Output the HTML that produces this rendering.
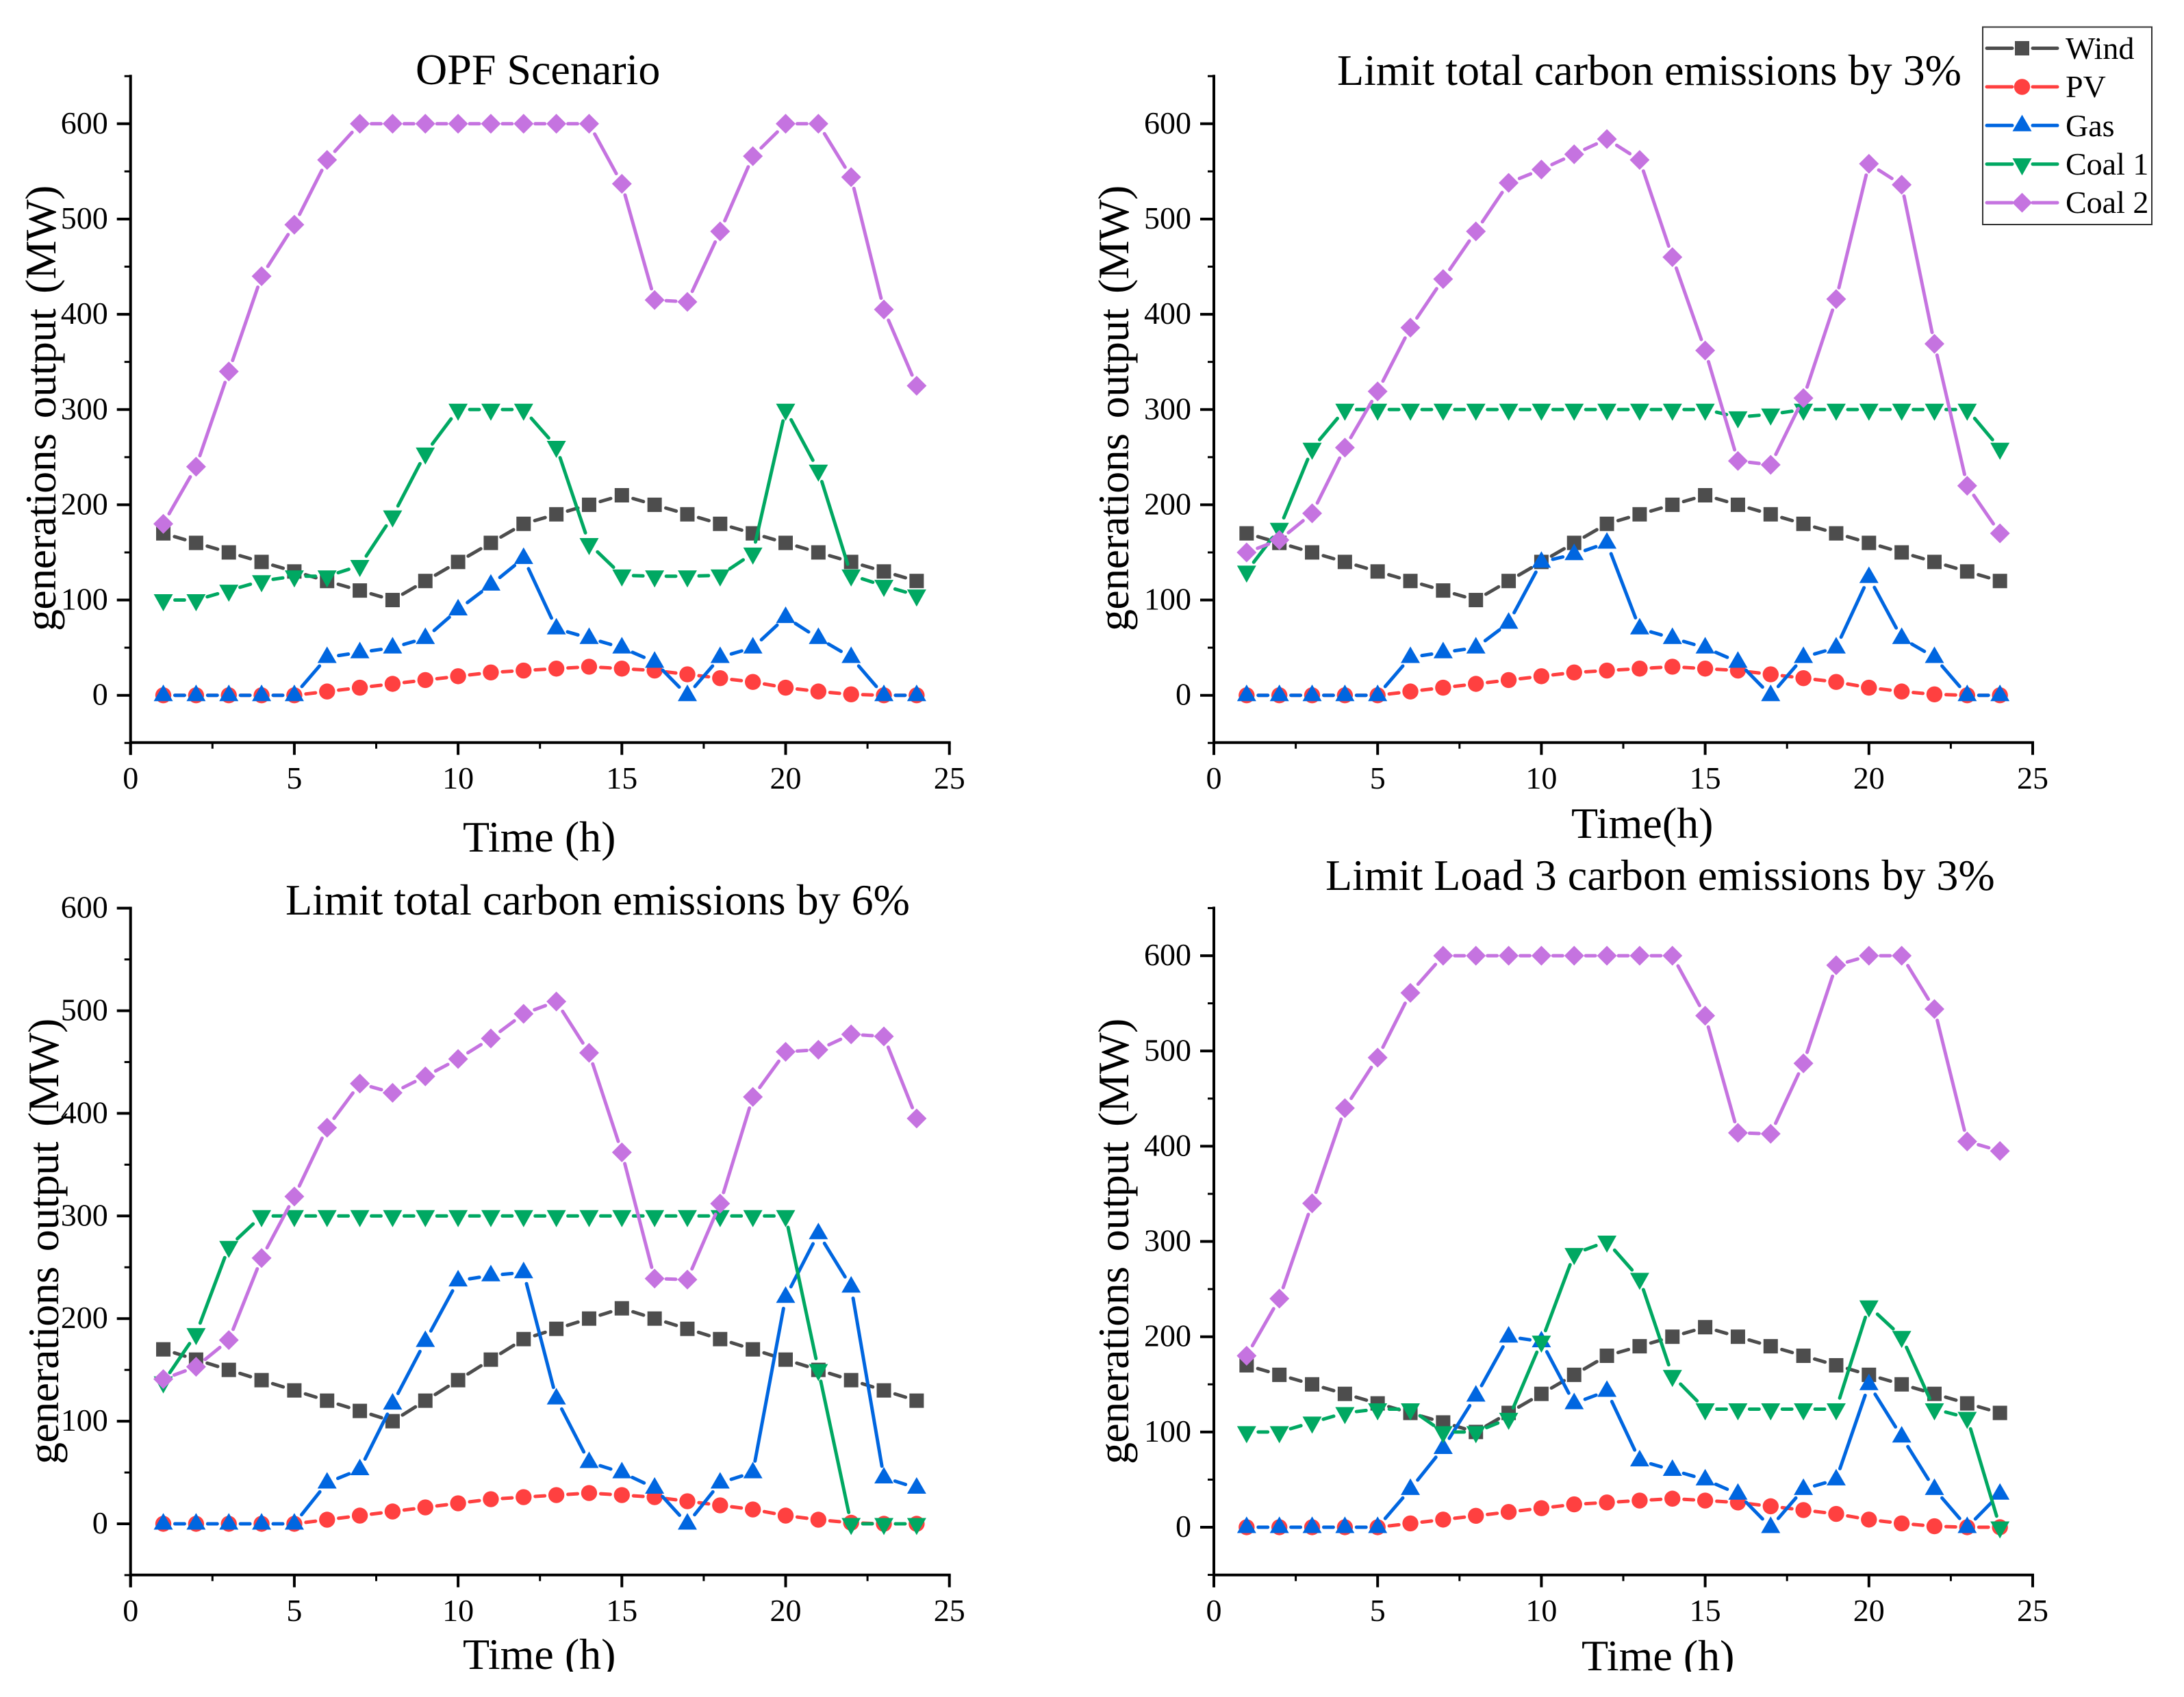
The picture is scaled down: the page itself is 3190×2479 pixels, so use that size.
<!DOCTYPE html>
<html>
<head>
<meta charset="utf-8">
<title>Generation output by scenario</title>
<style>
html,body{margin:0;padding:0;background:#fff;}
svg{display:block;}
text{font-family:"Liberation Serif",serif;fill:#000;}
.tick{font-size:46px;}
.big{font-size:64px;}
.ytitle{font-size:64px;word-spacing:7px;letter-spacing:-0.6px;}
.leg{font-size:46px;}
</style>
</head>
<body>
<svg id="chart" xmlns="http://www.w3.org/2000/svg" width="3190" height="2479" viewBox="0 0 3190 2479">
<rect x="0" y="0" width="3190" height="2479" fill="#ffffff"/>
<g id="plots"></g>
<text class="big" x="607" y="123">OPF Scenario</text>
<text class="big" x="1953" y="124">Limit total carbon emissions by 3%</text>
<text class="big" x="417" y="1336">Limit total carbon emissions by 6%</text>
<text class="big" x="1936" y="1300">Limit Load 3 carbon emissions by 3%</text>
<text class="big" x="676" y="1244">Time (h)</text>
<text class="big" x="2295" y="1224">Time(h)</text>
<text class="big" x="676" y="2438">Time (h)</text>
<text class="big" x="2310" y="2440">Time (h)</text>
<text class="ytitle" transform="translate(81,922) rotate(-90)">generations output (MW)</text>
<text class="ytitle" transform="translate(1648,922) rotate(-90)">generations output (MW)</text>
<text class="ytitle" transform="translate(85,2139) rotate(-90)">generations output (MW)</text>
<text class="ytitle" transform="translate(1648,2139) rotate(-90)">generations output (MW)</text>
<rect x="0" y="2442" width="3190" height="37" fill="#ffffff"/>
<g id="legend">
<rect x="2896" y="39.5" width="247" height="288.5" fill="#ffffff" stroke="#333333" stroke-width="2"/>
<text class="leg" x="3017" y="86">Wind</text>
<text class="leg" x="3017" y="142">PV</text>
<text class="leg" x="3017" y="199">Gas</text>
<text class="leg" x="3017" y="255">Coal 1</text>
<text class="leg" x="3017" y="311">Coal 2</text>
</g>
</svg>
<script>
var hours = [1,2,3,4,5,6,7,8,9,10,11,12,13,14,15,16,17,18,19,20,21,22,23,24];
var xTickLabels = [0,5,10,15,20,25];
var xMinorTicks = [2.5,7.5,12.5,17.5,22.5];
var yTickLabels = [0,100,200,300,400,500,600];
var yMinorTicksTall = [-50,50,150,250,350,450,550,650];
var yMinorTicksShort = [-50,50,150,250,350,450,550];

var wind = [170,160,150,140,130,120,110,100,120,140,160,180,190,200,210,200,190,180,170,160,150,140,130,120];
var pv = [0,0,0,0,0,4,8,12,16,20,24,26,28,30,28,26,22,18,14,8,4,1,0,0];

var gasOpf = [0,0,0,0,0,40,45,50,60,90,116,144,70,60,50,35,0,40,50,82,60,40,0,0];
var coal1Opf = [100,100,110,120,125,125,136,188,254,300,300,300,261,159,126,125,125,126,149,300,236,126,115,105];
var coal2Opf = [180,240,340,440,494,562,600,600,600,600,600,600,600,600,537,415,413,487,566,600,600,544,405,325];

var gasTotal3 = [0,0,0,0,0,40,45,50,76,140,148,160,70,60,50,35,0,40,50,124,60,40,0,0];
var coal1Total3 = [130,175,259,300,300,300,300,300,300,300,300,300,300,300,300,292,295,300,300,300,300,300,300,259];
var coal2Total3 = [150,163,191,260,319,386,437,487,538,552,568,584,562,460,362,246,242,312,416,558,536,369,220,170];

var gasTotal6 = [0,0,0,0,0,40,53,117,178,237,242,245,122,60,50,35,0,40,50,221,283,231,45,35];
var coal1Total6 = [138,185,270,300,300,300,300,300,300,300,300,300,300,300,300,300,300,300,300,300,150,0,0,0];
var coal2Total6 = [141,153,179,259,319,386,429,420,436,453,473,497,509,459,362,239,238,312,416,460,462,477,475,395];

var gasLoad3 = [0,0,0,0,0,40,83,138,200,195,130,143,70,60,50,35,0,40,50,150,95,40,0,35];
var coal1Load3 = [100,100,110,120,124,124,100,100,114,195,287,300,261,159,124,124,124,124,124,232,200,124,115,0];
var coal2Load3 = [180,240,340,440,493,561,600,600,600,600,600,600,600,600,537,414,413,487,590,600,600,544,405,395];

var NS = 'http://www.w3.org/2000/svg';
var COLORS = {wind:'#4d4d4d', pv:'#ff4040', gas:'#0066e0', coal1:'#00a862', coal2:'#c573e0'};

function mk(parent, tag, attrs) {
  var el = document.createElementNS(NS, tag);
  for (var k in attrs) el.setAttribute(k, attrs[k]);
  parent.appendChild(el);
  return el;
}

function drawMarker(parent, kind, cx, cy, name) {
  var el;
  if (kind === 'wind') {
    el = mk(parent, 'rect', {x:cx-10.5, y:cy-10.5, width:21, height:21, fill:COLORS.wind});
  } else if (kind === 'pv') {
    el = mk(parent, 'circle', {cx:cx, cy:cy, r:11.7, fill:COLORS.pv});
  } else if (kind === 'gas') {
    el = mk(parent, 'polygon', {points:(cx)+','+(cy-15.7)+' '+(cx+14)+','+(cy+8.5)+' '+(cx-14)+','+(cy+8.5), fill:COLORS.gas});
  } else if (kind === 'coal1') {
    el = mk(parent, 'polygon', {points:(cx-14)+','+(cy-8.5)+' '+(cx+14)+','+(cy-8.5)+' '+(cx)+','+(cy+16.5), fill:COLORS.coal1});
  } else {
    el = mk(parent, 'polygon', {points:(cx)+','+(cy-14.5)+' '+(cx+14.5)+','+(cy)+' '+(cx)+','+(cy+14.5)+' '+(cx-14.5)+','+(cy), fill:COLORS.coal2});
  }
  
  
}

function drawSeries(g, kind, values, xFn, yFn, label) {
  var sg = mk(g, 'g', {});
  
  
  var GAP = 17;
  for (var i = 0; i < values.length - 1; i++) {
    var x1 = xFn(hours[i]), y1 = yFn(values[i]);
    var x2 = xFn(hours[i+1]), y2 = yFn(values[i+1]);
    var dx = x2-x1, dy = y2-y1, d = Math.sqrt(dx*dx+dy*dy);
    if (d <= 2*GAP) continue;
    var ux = dx/d, uy = dy/d;
    var seg = mk(sg, 'line', {x1:x1+ux*GAP, y1:y1+uy*GAP, x2:x2-ux*GAP, y2:y2-uy*GAP,
      stroke:COLORS[kind], 'stroke-width':5, 'stroke-linecap':'round'});
    
    
  }
  for (var j = 0; j < values.length; j++) {
    drawMarker(sg, kind, xFn(hours[j]), yFn(values[j]), label + '-point');
  }
}

function drawPanel(name, left, zeroY, bottomY, yScale, yTop, minorY, series) {
  var g = mk(document.getElementById('plots'), 'g', {});
  
  
  var xFn = function (v) { return left + v * 47.84; };
  var yFn = function (v) { return zeroY - v * yScale; };

  var axes = mk(g, 'g', {});
  
  
  function ln(x1, y1, x2, y2, w) {
    var a = mk(axes, 'line', {x1:x1, y1:y1, x2:x2, y2:y2, stroke:'#000', 'stroke-width':w});
    return a;
  }
  var yAxis = ln(left, yFn(yTop)-2, left, bottomY+18, 4);
  
  
  var xAxis = ln(left, bottomY, xFn(25)+2, bottomY, 4);
  
  

  xTickLabels.forEach(function (v) {
    var t = ln(xFn(v), bottomY, xFn(v), bottomY+18, 4);
    
    
    var lab = mk(axes, 'text', {x:xFn(v), y:bottomY+67.3, 'text-anchor':'middle', 'class':'tick'});
    lab.textContent = String(v);
    
    
  });
  xMinorTicks.forEach(function (v) {
    var t = ln(xFn(v), bottomY, xFn(v), bottomY+9, 3);
    
    
  });
  yTickLabels.forEach(function (v) {
    var t = ln(left-20, yFn(v), left, yFn(v), 4);
    
    
    var lab = mk(axes, 'text', {x:left-33, y:yFn(v)+14, 'text-anchor':'end', 'class':'tick'});
    lab.textContent = String(v);
    
    
  });
  minorY.forEach(function (v) {
    var t = ln(left-9, yFn(v), left, yFn(v), 3);
    
    
  });

  series.forEach(function (s) {
    drawSeries(g, s[0], s[1], xFn, yFn, name + '-' + s[0]);
  });
}

drawPanel('opf', 190.7, 1015.7, 1084.7, 1.3915, 650, yMinorTicksTall,
  [['wind',wind],['pv',pv],['gas',gasOpf],['coal1',coal1Opf],['coal2',coal2Opf]]);
drawPanel('total-3', 1773, 1015.7, 1084.7, 1.3915, 650, yMinorTicksTall,
  [['wind',wind],['pv',pv],['gas',gasTotal3],['coal1',coal1Total3],['coal2',coal2Total3]]);
drawPanel('total-6', 190.7, 2226, 2300.7, 1.499, 600, yMinorTicksShort,
  [['wind',wind],['pv',pv],['gas',gasTotal6],['coal1',coal1Total6],['coal2',coal2Total6]]);
drawPanel('load3', 1773, 2231, 2300.7, 1.3915, 650, yMinorTicksTall,
  [['wind',wind],['pv',pv],['gas',gasLoad3],['coal1',coal1Load3],['coal2',coal2Load3]]);

var legendKinds = ['wind','pv','gas','coal1','coal2'];
var legendG = document.getElementById('legend');
legendKinds.forEach(function (k, i) {
  var y = 70.5 + i * 56.4;
  var a = mk(legendG, 'line', {x1:2902, y1:y, x2:2939, y2:y, stroke:COLORS[k], 'stroke-width':5, 'stroke-linecap':'round'});
  
  
  var b = mk(legendG, 'line', {x1:2969, y1:y, x2:3005, y2:y, stroke:COLORS[k], 'stroke-width':5, 'stroke-linecap':'round'});
  
  
  drawMarker(legendG, k, 2953.5, y, 'legend-marker-' + k);
});
</script>
</body>
</html>
